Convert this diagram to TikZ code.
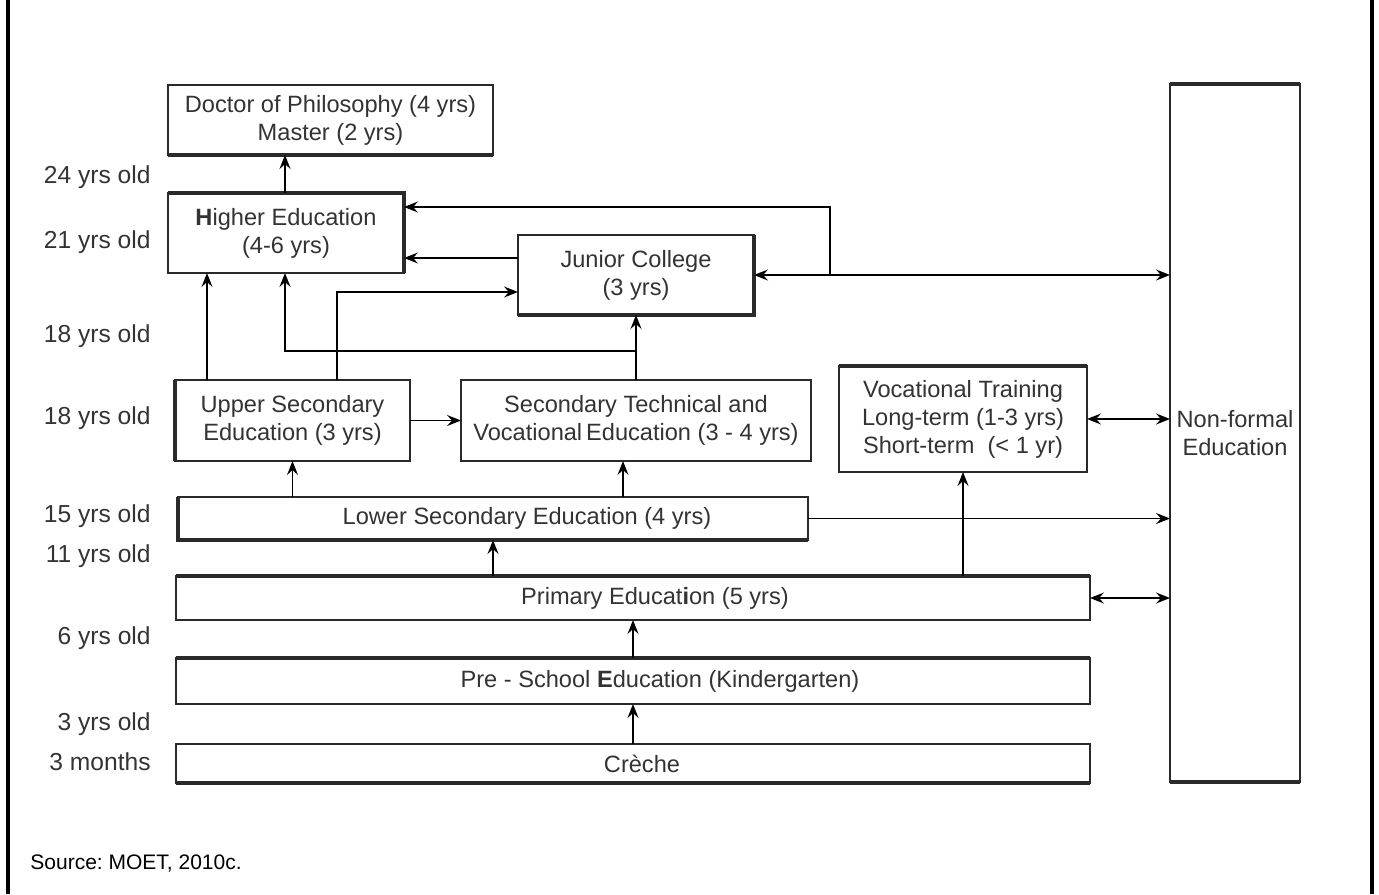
\documentclass[tikz,border=0pt]{standalone}
\usepackage{fontspec}
\setmainfont{Liberation Sans}
\usetikzlibrary{arrows.meta,calc}

\definecolor{boxline}{HTML}{2A2A2A}
\definecolor{textgray}{HTML}{333333}

\begin{document}
\frenchspacing
\begin{tikzpicture}[x=0.5pt,y=-0.5pt,
  box/.style={draw=boxline, line width=1pt, fill=white, inner sep=0pt, outer sep=0pt,
    align=center, text=textgray, font=\fontsize{11.8}{14}\selectfont},
  age/.style={anchor=east, inner sep=0pt, text=textgray, font=\fontsize{12.3}{14}\selectfont},
  tip/.tip={Stealth[length=7pt,width=5.5pt,inset=2.5pt]},
  arr/.style={draw=black, line width=0.8pt, -tip},
  dbl/.style={draw=black, line width=0.8pt, tip-tip},
  heavy/.style={draw=boxline, line width=2pt},
  frame/.style={draw=black, line width=1.6pt}
]
\useasboundingbox (0,0) rectangle (1379,894);

% page frame
\draw[frame] (8,0) -- (8,894);
\draw[frame] (1372,0) -- (1372,894);

% column and row guides for the connectors
\coordinate (c207) at (207,0);
\coordinate (c285) at (285,0);
\coordinate (c337) at (337,0);
\coordinate (c623) at (623,0);
\coordinate (c830) at (830,0);
\coordinate (r207) at (0,207);
\coordinate (r258) at (0,258);
\coordinate (r292) at (0,292);
\coordinate (r351) at (0,351);

% boxes
\node[box, minimum width=162.5pt, minimum height=35pt] (phd) at (330.5,120)
  {Doctor of Philosophy (4 yrs)\\Master (2 yrs)};
\node[box, minimum width=118pt, minimum height=40pt] (higher) at (286,233)
  {\textbf{H}igher Education\\(4-6 yrs)};
\node[box, minimum width=118pt, minimum height=40pt] (junior) at (636,275)
  {Junior College\\(3 yrs)};
\node[box, minimum width=117.5pt, minimum height=40.5pt] (upper) at (292.5,420.5)
  {Upper Secondary\\Education (3 yrs)};
\node[box, minimum width=175pt, minimum height=40.5pt] (sectech) at (636,420.5)
  {Secondary Technical and\\Vocational\,Education (3 - 4 yrs)};
\node[box, minimum width=124pt, minimum height=53pt] (voc) at (963,419)
  {Vocational Training\\Long-term (1-3 yrs)\\Short-term\ \ (< 1 yr)};
\node[box, minimum width=65pt, minimum height=349pt] (nonformal) at (1235,433)
  {Non-formal\\Education};
\node[box, minimum width=315pt, minimum height=21.5pt] (lower) at (493,518.5)
  {\hspace*{34pt}Lower Secondary Education (4 yrs)};
\node[box, minimum width=457pt, minimum height=22pt] (primary) at (633,598)
  {\hspace*{22pt}Primary Educat\textbf{i}on (5 yrs)};
\node[box, minimum width=457pt, minimum height=23pt] (preschool) at (633,681)
  {\hspace*{27pt}Pre - School \textbf{E}ducation (Kindergarten)};
\node[box, minimum width=457pt, minimum height=19.5pt] (creche) at (633,763.5)
  {\hspace*{9pt}Crèche};

% heavier edges of the boxes
\draw[heavy] (phd.south west) -- (phd.south east);
\draw[heavy] (higher.north west) -- (higher.north east) -- (higher.south east);
\draw[heavy] (junior.north east) -- (junior.south east) -- (junior.south west);
\draw[heavy] (upper.north west) -- (upper.south west);
\draw[heavy] (voc.north west) -- (voc.north east);
\draw[heavy] (nonformal.north west) -- (nonformal.north east);
\draw[heavy] (nonformal.south west) -- (nonformal.south east);
\draw[heavy] (lower.north west) -- (lower.south west) -- (lower.south east);
\draw[heavy] (primary.north west) -- (primary.north east);
\draw[heavy] (preschool.north west) -- (preschool.north east);
\draw[heavy] (creche.south west) -- (creche.south east);

% ages
\node[age] (a24) at (151,177) {24 yrs old};
\node[age] (a21) at (151,242) {21 yrs old};
\node[age] (a18a) at (151,336) {18 yrs old};
\node[age] (a18b) at (151,418) {18 yrs old};
\node[age] (a15) at (151,516) {15 yrs old};
\node[age] (a11) at (151,556) {11 yrs old};
\node[age] (a6) at (151,638) {6 yrs old};
\node[age] (a3) at (151,724) {3 yrs old};
\node[age] (a3m) at (151,762) {3 months};

% connectors
\draw[arr] (higher.north -| c285) -- (phd.south -| c285);
\draw[arr] (upper.north -| c207) -- (higher.south -| c207);
\draw[arr] (upper.north -| c337) |- (junior.west |- r292);
\draw[arr] (sectech.north) -- (junior.south);
\coordinate (join) at (sectech.north |- r351);
\draw[arr, line width=1.4pt] (join) -| (higher.south -| c285);
\draw[arr] (junior.west |- r258) -- (higher.east |- r258);
\draw[dbl] (junior.east) -- (nonformal.west |- junior.east);
\draw[arr] (c830 |- junior.east) |- (higher.east |- r207);
\draw[arr] (upper.east) -- (sectech.west);
\draw[arr] (lower.north -| upper.south) -- (upper.south);
\draw[arr] (lower.north -| c623) -- (sectech.south -| c623);
\draw[arr] (lower.east) -- (lower.east -| nonformal.west);
\draw[arr] (primary.north -| lower.south) -- (lower.south);
\draw[arr] (primary.north -| voc.south) -- (voc.south);
\draw[dbl] (voc.east) -- (voc.east -| nonformal.west);
\draw[dbl] (primary.east) -- (primary.east -| nonformal.west);
\draw[arr] (preschool.north) -- (primary.south);
\draw[arr] (creche.north) -- (preschool.south);

% source line
\node[anchor=west, inner sep=0pt, font=\fontsize{10.5}{12}\selectfont] (src) at (30,863)
  {Source: MOET, 2010c.};
\end{tikzpicture}
\end{document}
